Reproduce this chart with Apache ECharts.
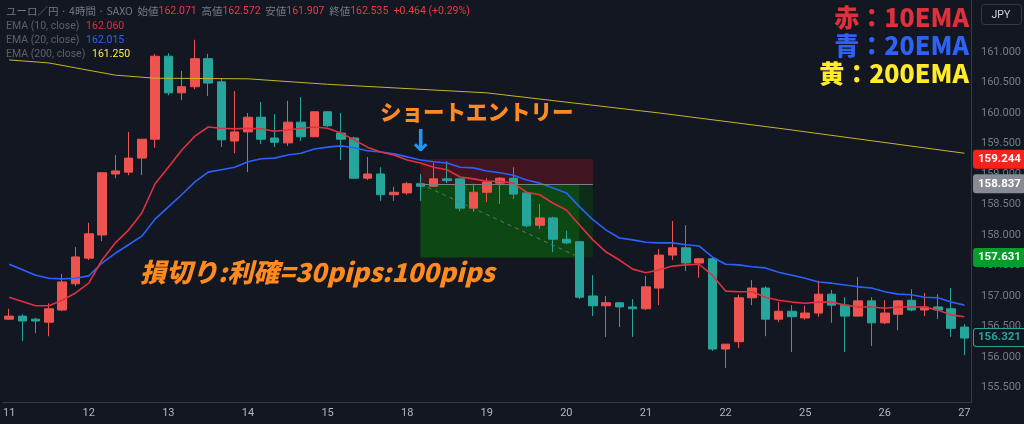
<!DOCTYPE html>
<html><head><meta charset="utf-8">
<script src="https://cdn.jsdelivr.net/npm/echarts@6/dist/echarts.min.js"></script>
<style>html,body{margin:0;padding:0;background:#131722}#c{width:1024px;height:424px}</style>
</head><body><div id="c"></div>
<script>
const days = ['11','12','13','14','15','18','19','20','21','22','25','26','27'];
const candlesPerDay = 6;
// [open, close, low, high]
const ohlc = [
[156.62,156.67,156.61,156.79],[156.67,156.59,156.26,156.70],[156.62,156.59,156.39,156.64],[156.57,156.79,156.34,156.88],
[156.77,157.23,156.75,157.36],[157.20,157.64,157.16,157.80],[157.62,158.02,157.59,158.20],[158.00,159.02,157.90,159.02],
[159.00,159.05,158.93,159.31],[159.03,159.26,158.98,159.69],[159.26,159.57,158.98,159.57],[159.57,160.93,159.43,160.97],
[160.93,160.33,160.29,160.98],[160.33,160.43,160.21,160.69],[160.43,160.89,160.39,161.20],[160.89,160.49,160.28,160.97],
[160.51,159.56,159.44,160.57],[159.54,159.69,159.34,160.36],[159.69,159.93,159.03,160.00],[159.93,159.57,159.49,160.18],
[159.59,159.52,159.44,159.98],[159.51,159.85,159.46,160.20],[159.85,159.61,159.54,160.26],[159.61,160.02,159.61,160.02],
[160.02,159.79,159.77,160.03],[159.67,159.57,159.23,160.00],[159.59,158.93,158.92,159.61],[158.93,159.00,158.90,159.28],
[159.00,158.66,158.56,159.11],[158.66,158.70,158.56,158.79],[158.69,158.84,158.66,158.87],[158.84,158.80,158.56,159.00],
[158.80,158.92,158.79,159.18],[158.92,158.89,158.85,159.21],[158.92,158.44,158.39,158.93],[158.44,158.70,158.38,158.84],
[158.70,158.87,158.54,158.93],[158.85,158.93,158.51,158.95],[158.93,158.67,158.59,159.11],[158.69,158.15,158.13,158.70],
[158.16,158.28,158.10,158.51],[158.28,157.93,157.72,158.30],[157.93,157.87,157.85,158.07],[157.89,156.98,156.95,157.90],
[157.00,156.84,156.67,157.34],[156.84,156.89,156.33,157.00],[156.89,156.82,156.49,156.90],[156.82,156.79,156.33,156.95],
[156.79,157.15,156.77,157.33],[157.13,157.67,156.85,157.77],[157.67,157.79,157.59,158.23],[157.79,157.54,157.41,158.16],
[157.54,157.61,157.30,157.62],[157.61,156.13,156.10,157.62],[156.13,156.21,155.82,156.21],[156.25,156.97,156.15,157.02],
[156.97,157.13,156.85,157.26],[157.13,156.62,156.34,157.16],[156.62,156.75,156.57,156.90],[156.75,156.66,156.08,156.85],
[156.64,156.72,156.61,156.84],[156.72,157.03,156.66,157.25],[157.03,156.85,156.56,157.10],[156.85,156.67,156.08,156.98],
[156.67,156.92,156.66,157.31],[156.92,156.56,156.18,156.98],[156.56,156.72,156.54,156.93],[156.70,156.92,156.44,156.93],
[156.93,156.77,156.75,157.11],[156.77,156.82,156.67,157.05],[156.82,156.77,156.62,157.03],[156.79,156.47,156.33,157.13],
[156.49,156.31,156.03,156.54]
];
const ema10 = [156.98,null,156.84,156.84,156.93,157.05,157.21,157.59,157.87,158.08,158.36,158.84,159.11,159.39,159.62,159.77,159.75,159.74,159.75,159.74,159.70,159.72,159.75,159.77,159.75,159.67,159.56,159.44,159.36,159.31,159.23,159.18,159.11,159.07,158.95,158.92,158.88,158.88,158.85,158.70,158.66,158.52,158.41,158.16,157.92,157.72,157.59,157.44,157.38,157.43,157.49,157.51,157.52,157.34,157.08,157.07,157.07,156.98,156.93,156.90,156.88,156.90,156.90,156.85,156.82,156.82,156.80,156.82,156.82,156.82,156.77,156.69,156.66];
const ema20 = [157.52,null,157.34,157.29,157.28,157.29,157.33,157.54,157.70,157.84,157.98,158.26,158.46,158.66,158.87,159.03,159.07,159.11,159.20,159.25,159.26,159.31,159.34,159.41,159.44,159.46,159.43,159.38,159.36,159.33,159.28,159.23,159.20,159.18,159.11,159.10,159.05,159.02,158.98,158.90,158.85,158.77,158.69,158.46,158.25,158.08,157.95,157.92,157.88,157.87,157.87,157.84,157.82,157.64,157.52,157.51,157.48,157.46,157.39,157.34,157.29,157.23,157.21,157.18,157.15,157.13,157.07,157.03,157.02,156.98,156.97,156.90,156.85];
const ema200Idx = [0,3,5,8,11,18,24,36,49,58,72];
const ema200Val = [160.87,160.82,160.74,160.62,160.57,160.56,160.47,160.33,160.00,159.75,159.34];
const yTicks = [155.5,156,156.5,157,157.5,158,158.5,159,159.5,160,160.5,161];
const entryPrice = 158.837, stopPrice = 159.244, targetPrice = 157.631, lastPrice = 156.321;
const tradeStartIdx = 31, tradeEndIdx = 44, tradeHitIdx = 43;

const cats = [];
days.forEach((d, di) => {
  const n = di === days.length - 1 ? 1 : candlesPerDay;
  for (let k = 0; k < n; k++) cats.push(d + '_' + k);
});
const ema200 = cats.map(() => null);
ema200Idx.forEach((i, k) => ema200[i] = ema200Val[k]);

const chart = echarts.init(document.getElementById('c'));
const tag = (v, bg, fg, border) => ({
  yAxis: v,
  lineStyle: {color: 'rgba(0,0,0,0)', width: 0},
  label: {show: true, position: 'end', distance: 3, formatter: v.toFixed(3), color: fg, backgroundColor: bg,
    borderColor: border || bg, borderWidth: 1, padding: [3, 4, 2, 4], fontSize: 11.5, fontWeight: 'bold', fontFamily: 'Roboto', borderRadius: 2}
});
chart.setOption({
  backgroundColor: '#131722',
  animation: false,
  grid: {left: 0, right: 51, top: 0, bottom: 22},
  xAxis: {
    type: 'category', data: cats, boundaryGap: true,
    axisLine: {lineStyle: {color: '#363a45'}}, axisTick: {show: false},
    axisLabel: {interval: i => i % candlesPerDay === 0, formatter: v => v.split('_')[0], color: '#b2b5be', fontSize: 11, fontFamily: 'Roboto', margin: 6},
    splitLine: {show: false}
  },
  yAxis: {
    type: 'value', position: 'right', min: 155.262, max: 161.852, scale: true,
    axisLine: {show: true, lineStyle: {color: '#363a45'}}, axisTick: {show: false},
    axisLabel: {customValues: yTicks, formatter: v => v.toFixed(3), color: '#787b86', fontSize: 11, fontFamily: 'Roboto', margin: 10},
    splitLine: {show: false}
  },
  series: [
    {
      type: 'candlestick', data: ohlc, barWidth: 9,
      itemStyle: {color: '#ef5350', color0: '#26a69a', borderColor: '#ef5350', borderColor0: '#26a69a', borderWidth: 1},
      markArea: {silent: true, data: [
        [{xAxis: tradeStartIdx, yAxis: stopPrice, itemStyle: {color: 'rgba(120,20,30,0.45)'}}, {xAxis: tradeEndIdx, yAxis: entryPrice}],
        [{xAxis: tradeStartIdx, yAxis: entryPrice, itemStyle: {color: 'rgba(12,80,18,0.85)'}}, {xAxis: tradeHitIdx, yAxis: targetPrice}],
        [{xAxis: tradeHitIdx, yAxis: entryPrice, itemStyle: {color: 'rgba(12,60,18,0.6)'}}, {xAxis: tradeEndIdx, yAxis: targetPrice}]
      ]},
      markLine: {silent: true, symbol: 'none', data: [
        [{xAxis: tradeStartIdx, yAxis: entryPrice, lineStyle: {color: '#7a7e88', width: 1, type: 'solid'}, label: {show: false}}, {xAxis: tradeEndIdx, yAxis: entryPrice}],
        [{xAxis: tradeStartIdx, yAxis: entryPrice, lineStyle: {color: '#6b6f78', width: 1, type: [4, 4]}, label: {show: false}}, {xAxis: tradeHitIdx, yAxis: targetPrice}]
      ]}
    },
    {type: 'line', data: ema200, connectNulls: true, symbol: 'none', lineStyle: {color: '#c9b42c', width: 1}},
    {type: 'line', data: ema20, connectNulls: true, symbol: 'none', lineStyle: {color: '#2962ff', width: 1.6}},
    {type: 'line', data: ema10, connectNulls: true, symbol: 'none', lineStyle: {color: '#e0313f', width: 1.6}},
    {type: 'line', data: [], clip: false, z: 10,
      markLine: {silent: true, symbol: 'none', data: [
        tag(stopPrice, '#f7221b', '#ffffff'),
        tag(entryPrice, '#878b94', '#ffffff'),
        tag(targetPrice, '#089d2b', '#ffffff'),
        tag(lastPrice, '#131722', '#26a69a', '#26a69a')
      ]}}
  ],
  graphic: [
    {type: 'text', left: 6, top: 6, style: {text: '{g|ユーロ／円 · 4時間 · SAXO  始値}{r|162.071}{g|  高値}{r|162.572}{g|  安値}{r|161.907}{g|  終値}{r|162.535}{r|  +0.464 (+0.29%)}',
      rich: {g: {fill: '#787b86', fontSize: 10.5, fontFamily: 'Noto Sans CJK JP'}, r: {fill: '#f23645', fontSize: 10.5, fontFamily: 'Roboto'}}}},
    {type: 'text', left: 6, top: 20, style: {text: '{g|EMA (10, close)}  {v|162.060}', rich: {g: {fill: '#5d606b', fontSize: 10.5, fontFamily: 'Roboto'}, v: {fill: '#e0313f', fontSize: 10.5, fontFamily: 'Roboto'}}}},
    {type: 'text', left: 6, top: 34, style: {text: '{g|EMA (20, close)}  {v|162.015}', rich: {g: {fill: '#5d606b', fontSize: 10.5, fontFamily: 'Roboto'}, v: {fill: '#2962ff', fontSize: 10.5, fontFamily: 'Roboto'}}}},
    {type: 'text', left: 6, top: 48, style: {text: '{g|EMA (200, close)}  {v|161.250}', rich: {g: {fill: '#5d606b', fontSize: 10.5, fontFamily: 'Roboto'}, v: {fill: '#ffeb3b', fontSize: 10.5, fontFamily: 'Roboto'}}}},
    {type: 'group', right: 2, top: 4, children: [
      {type: 'rect', shape: {x: 0, y: 0, width: 40, height: 20, r: 3}, style: {fill: '#131722', stroke: '#363a45'}},
      {type: 'text', x: 10, y: 5, style: {text: 'JPY', fill: '#d1d4dc', fontSize: 10.5, fontFamily: 'Roboto'}}
    ]},
    {type: 'text', right: 54, top: 4, style: {text: '赤：10EMA', fill: '#e0303c', fontSize: 25, fontWeight: 900, fontFamily: 'Noto Sans CJK JP', stroke: '#131722', lineWidth: 2}},
    {type: 'text', right: 54, top: 32, style: {text: '青：20EMA', fill: '#2d62f5', fontSize: 25, fontWeight: 900, fontFamily: 'Noto Sans CJK JP', stroke: '#131722', lineWidth: 2}},
    {type: 'text', right: 54, top: 60, style: {text: '黄：200EMA', fill: '#ffeb2a', fontSize: 25, fontWeight: 900, fontFamily: 'Noto Sans CJK JP', stroke: '#131722', lineWidth: 2}},
    {type: 'text', left: 380, top: 101, style: {text: 'ショートエントリー', fill: '#ff8a1f', fontSize: 21.5, fontWeight: 900, fontFamily: 'Noto Sans CJK JP'}},
    {type: 'text', left: 408, top: 128, style: {text: '↓', fill: '#2196f3', fontSize: 30, fontWeight: 900, fontFamily: 'DejaVu Sans'}},
    {type: 'text', left: 140, top: 259, style: {text: '損切り:利確=30pips:100pips', fill: '#ff8a1f', fontSize: 26, fontWeight: 900, fontStyle: 'italic', fontFamily: 'Noto Sans CJK JP'}}
  ]
});
</script></body></html>
